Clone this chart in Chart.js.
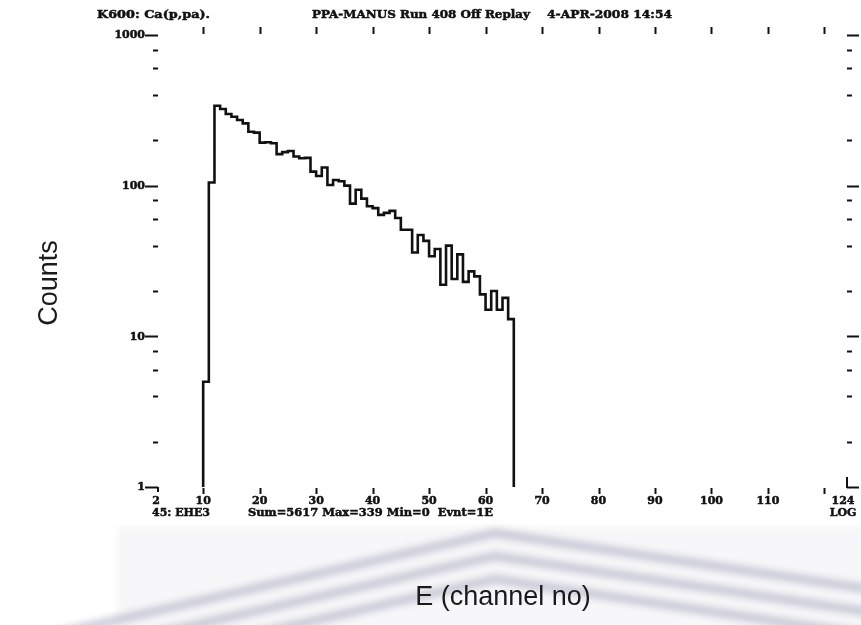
<!DOCTYPE html>
<html>
<head>
<meta charset="utf-8">
<script src="https://cdn.jsdelivr.net/npm/chart.js@4/dist/chart.umd.min.js"></script>
<style>
    html, body { margin: 0; padding: 0; background: #fff; }
    #wrap { position: relative; width: 861px; height: 625px; }
</style>
</head>
<body>
<div id="wrap"><canvas id="spec" width="861" height="625"></canvas></div>
<script>
// ─── Spectrum data: one bin per channel, bin c covers [c, c+1) ───
const channels = [
    10, 11, 12, 13, 14, 15, 16, 17, 18, 19,
    20, 21, 22, 23, 24, 25, 26, 27, 28, 29,
    30, 31, 32, 33, 34, 35, 36, 37, 38, 39,
    40, 41, 42, 43, 44, 45, 46, 47, 48, 49,
    50, 51, 52, 53, 54, 55, 56, 57, 58, 59,
    60, 61, 62, 63, 64
];
const counts = [
    5, 105, 339, 323, 299, 287, 273, 259, 228, 225,
    193, 194, 191, 162, 167, 170, 156, 152, 153, 124,
    116, 132, 101, 109, 107, 100, 76, 94, 82, 73,
    71, 64, 66, 68, 61, 51, 51, 36, 47, 43,
    34, 38, 22, 40, 24, 35, 23, 27, 25, 19,
    15, 20, 15, 18, 13
];

// axis ranges and ticks
const xMin = 2, xMax = 124;
const yMin = 1, yMax = 1000;
const xTickValues = [10, 20, 30, 40, 50, 60, 70, 80, 90, 100, 110, 120];
const xLabelValues = [2, 10, 20, 30, 40, 50, 60, 70, 80, 90, 100, 110, 124];
const yMajor = [1, 10, 100, 1000];
const yMinor = [2, 4, 6, 8, 20, 40, 60, 80, 200, 400, 600, 800];

// header / footer text of the histogram frame
const headLeft = 'K600: Ca(p,pa).';
const headMid = 'PPA-MANUS Run 408 Off Replay';
const headRight = '4-APR-2008 14:54';
const footId = '45: EHE3';
const footStats = 'Sum=5617 Max=339 Min=0  Evnt=1E';
const footMode = 'LOG';
const xTitle = 'E (channel no)';
const yTitle = 'Counts';

// stepped outline: rise at the first edge, fall after the last bin
const steps = [{ x: channels[0], y: yMin }];
channels.forEach((c, i) => steps.push({ x: c, y: counts[i] }));
steps.push({ x: channels[channels.length - 1] + 1, y: yMin });

const PAW_FONT = 'bold 11px "DejaVu Serif"';
const INK = '#111';

// heavy plotter-style text, optionally squeezed to a given width
function inkText(ctx, text, x, y, width) {
    ctx.save();
    ctx.translate(x, y);
    if (width) {
        ctx.scale(width / ctx.measureText(text).width, 1);
        ctx.textAlign = 'left';
    }
    ctx.lineWidth = 0.5;
    ctx.strokeText(text, 0, 0);
    ctx.fillText(text, 0, 0);
    ctx.restore();
}

// ─── faint chevron backdrop behind the axis title ───
const backdrop = {
    id: 'backdrop',
    beforeDraw(chart) {
        const ctx = chart.ctx;
        ctx.save();
        ctx.fillStyle = '#fff';
        ctx.fillRect(0, 0, chart.width, chart.height);
        ctx.filter = 'blur(3px)';
        ctx.fillStyle = '#f7f7f9';
        ctx.fillRect(117, 527, 760, 110);
        ctx.strokeStyle = 'rgba(178, 178, 198, 0.6)';
        ctx.lineWidth = 10;
        ctx.lineCap = 'round';
        [533, 556, 579].forEach(apex => {
            ctx.beginPath();
            ctx.moveTo(60, apex + 0.23 * (495 - 60));
            ctx.lineTo(495, apex);
            ctx.lineTo(880, apex + 0.15 * (880 - 495));
            ctx.stroke();
        });
        ctx.restore();
    }
};

// ─── tick marks, labels and captions in the old plotter style ───
const frame = {
    id: 'frame',
    afterDraw(chart) {
        const ctx = chart.ctx;
        const xs = chart.scales.x, ys = chart.scales.y;
        const L = xs.getPixelForValue(xMin), R = xs.getPixelForValue(xMax);
        const T = ys.getPixelForValue(yMax), B = ys.getPixelForValue(yMin);

        ctx.save();
        ctx.strokeStyle = INK;
        ctx.fillStyle = INK;
        ctx.lineWidth = 2;

        const seg = (x1, y1, x2, y2) => {
            ctx.beginPath();
            ctx.moveTo(x1, y1);
            ctx.lineTo(x2, y2);
            ctx.stroke();
        };

        // y ticks on both sides
        yMajor.forEach(v => {
            const y = Math.round(ys.getPixelForValue(v)) + 0.5;
            seg(L - 13, y, L, y);
            seg(R, y, R + 12, y);
        });
        yMinor.forEach(v => {
            const y = Math.round(ys.getPixelForValue(v)) + 0.5;
            seg(L - 5, y, L, y);
            seg(R, y, R + 5, y);
        });

        // x ticks: upward on top, downward at the bottom
        xTickValues.forEach(v => {
            const x = Math.round(xs.getPixelForValue(v)) + 0.5;
            seg(x, T - 8, x, T - 1);
            seg(x, B + 1, x, B + 7);
        });
        seg(L, B, L, B + 5);
        seg(R, B - 10, R, B + 1);

        ctx.font = PAW_FONT;
        ctx.textBaseline = 'middle';

        ctx.textAlign = 'right';
        yMajor.forEach(v => {
            inkText(ctx, String(v), L - 13, ys.getPixelForValue(v) + 0.5);
        });

        ctx.textAlign = 'center';
        xLabelValues.forEach(v => {
            let x = xs.getPixelForValue(v);
            if (v === xMin) x -= 2;
            if (v === xMax) x -= 4;
            inkText(ctx, String(v), x, B + 14);
        });

        inkText(ctx, headLeft, 97, 15, 113);
        inkText(ctx, headMid, 312, 15, 218);
        inkText(ctx, headRight, 547, 15, 125);

        inkText(ctx, footId, 152, B + 26, 58);
        inkText(ctx, footStats, 248, B + 26, 245);
        ctx.textAlign = 'center';
        inkText(ctx, footMode, R - 4, B + 26);

        // axis titles
        ctx.fillStyle = '#1a1a1a';
        ctx.font = '27px "Liberation Sans", Arial, sans-serif';
        ctx.textAlign = 'center';
        ctx.fillText(xTitle, 503, 598);
        ctx.translate(50, 283);
        ctx.rotate(-Math.PI / 2);
        ctx.fillText(yTitle, 0, 0);
        ctx.restore();
    }
};

new Chart(document.getElementById('spec'), {
    type: 'line',
    data: {
        datasets: [{
            label: 'EHE3',
            data: steps,
            stepped: 'before',
            borderColor: INK,
            borderWidth: 2.6,
            pointRadius: 0,
            fill: false,
            tension: 0
        }]
    },
    options: {
        responsive: false,
        animation: false,
        events: [],
        layout: { padding: { left: 158, right: 14, top: 35, bottom: 138 } },
        scales: {
            x: { type: 'linear', min: xMin, max: xMax, display: false },
            y: { type: 'logarithmic', min: yMin, max: yMax, display: false }
        },
        plugins: {
            legend: { display: false },
            tooltip: { enabled: false }
        }
    },
    plugins: [backdrop, frame]
});
</script>
</body>
</html>
